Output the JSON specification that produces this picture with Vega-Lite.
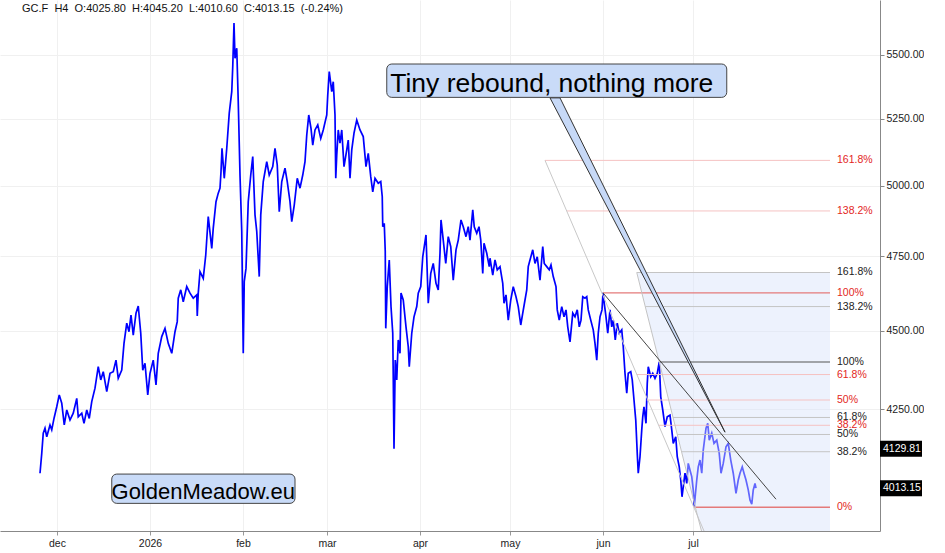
{
  "$schema": "https://vega.github.io/schema/vega-lite/v6.json",
  "width": 880,
  "height": 531,
  "padding": 0,
  "background": "white",
  "config": {"view": {"stroke": null}, "font": "Liberation Sans"},
  "datasets": {
    "price": [
      {"t":"2025-11-25T08:00","p":4057},{"t":"2025-11-25T22:00","p":4116},{"t":"2025-11-26T10:00","p":4177},{"t":"2025-11-27T00:00","p":4192},{"t":"2025-11-27T14:00","p":4166},{"t":"2025-11-28T16:00","p":4202},{"t":"2025-11-29T06:00","p":4187},{"t":"2025-11-30T00:00","p":4222},{"t":"2025-11-30T22:00","p":4258},{"t":"2025-12-01T18:00","p":4295},
      {"t":"2025-12-02T14:00","p":4269},{"t":"2025-12-03T10:00","p":4202},{"t":"2025-12-04T06:00","p":4248},{"t":"2025-12-05T08:00","p":4217},{"t":"2025-12-06T10:00","p":4238},{"t":"2025-12-07T14:00","p":4284},{"t":"2025-12-08T02:00","p":4227},{"t":"2025-12-09T06:00","p":4238},{"t":"2025-12-10T00:00","p":4207},{"t":"2025-12-10T22:00","p":4248},
      {"t":"2025-12-11T18:00","p":4222},{"t":"2025-12-12T14:00","p":4274},{"t":"2025-12-13T16:00","p":4316},{"t":"2025-12-14T18:00","p":4384},{"t":"2025-12-15T14:00","p":4342},{"t":"2025-12-16T10:00","p":4368},{"t":"2025-12-17T14:00","p":4305},{"t":"2025-12-18T16:00","p":4363},{"t":"2025-12-19T18:00","p":4368},{"t":"2025-12-20T16:00","p":4405},
      {"t":"2025-12-21T10:00","p":4347},{"t":"2025-12-22T14:00","p":4373},{"t":"2025-12-23T08:00","p":4459},{"t":"2025-12-24T06:00","p":4525},{"t":"2025-12-25T00:00","p":4497},{"t":"2025-12-25T16:00","p":4552},{"t":"2025-12-26T10:00","p":4486},{"t":"2025-12-27T08:00","p":4558},{"t":"2025-12-28T02:00","p":4582},{"t":"2025-12-28T22:00","p":4492},
      {"t":"2025-12-29T14:00","p":4373},{"t":"2025-12-30T08:00","p":4395},{"t":"2025-12-31T06:00","p":4295},{"t":"2026-01-01T00:00","p":4363},{"t":"2026-01-02T02:00","p":4405},{"t":"2026-01-03T00:00","p":4326},{"t":"2026-01-03T18:00","p":4427},{"t":"2026-01-04T22:00","p":4481},{"t":"2026-01-06T00:00","p":4508},{"t":"2026-01-07T02:00","p":4459},
      {"t":"2026-01-08T06:00","p":4427},{"t":"2026-01-09T08:00","p":4497},{"t":"2026-01-10T02:00","p":4530},{"t":"2026-01-10T10:00","p":4608},{"t":"2026-01-11T06:00","p":4636},{"t":"2026-01-12T02:00","p":4596},{"t":"2026-01-13T06:00","p":4647},{"t":"2026-01-14T08:00","p":4625},{"t":"2026-01-15T10:00","p":4608},{"t":"2026-01-16T14:00","p":4619},
      {"t":"2026-01-16T18:00","p":4549},{"t":"2026-01-17T02:00","p":4625},{"t":"2026-01-17T16:00","p":4698},{"t":"2026-01-18T18:00","p":4675},{"t":"2026-01-19T14:00","p":4755},{"t":"2026-01-20T10:00","p":4890},{"t":"2026-01-21T14:00","p":4778},{"t":"2026-01-22T02:00","p":4849},{"t":"2026-01-23T00:00","p":4943},{"t":"2026-01-23T18:00","p":4974},
      {"t":"2026-01-24T08:00","p":4992},{"t":"2026-01-24T16:00","p":5052},{"t":"2026-01-25T00:00","p":5139},{"t":"2026-01-25T18:00","p":5028},{"t":"2026-01-26T14:00","p":5139},{"t":"2026-01-27T10:00","p":5272},{"t":"2026-01-28T06:00","p":5355},{"t":"2026-01-28T14:00","p":5454},{"t":"2026-01-29T00:00","p":5629},{"t":"2026-01-29T08:00","p":5487},
      {"t":"2026-01-29T22:00","p":5527},{"t":"2026-01-30T10:00","p":5316},{"t":"2026-01-31T00:00","p":5040},{"t":"2026-01-31T14:00","p":4837},{"t":"2026-02-01T02:00","p":4427},{"t":"2026-02-01T10:00","p":4664},{"t":"2026-02-02T00:00","p":4709},{"t":"2026-02-02T18:00","p":4943},{"t":"2026-02-03T14:00","p":5040},{"t":"2026-02-04T06:00","p":5108},
      {"t":"2026-02-05T00:00","p":4896},{"t":"2026-02-05T14:00","p":4837},{"t":"2026-02-06T10:00","p":4681},{"t":"2026-02-06T22:00","p":4896},{"t":"2026-02-07T18:00","p":5016},{"t":"2026-02-08T22:00","p":5089},{"t":"2026-02-09T18:00","p":5040},{"t":"2026-02-10T22:00","p":5071},{"t":"2026-02-11T16:00","p":5139},{"t":"2026-02-12T10:00","p":5077},
      {"t":"2026-02-13T02:00","p":4907},{"t":"2026-02-13T22:00","p":5016},{"t":"2026-02-15T00:00","p":5065},{"t":"2026-02-15T18:00","p":5016},{"t":"2026-02-16T16:00","p":4943},{"t":"2026-02-17T06:00","p":4872},{"t":"2026-02-18T02:00","p":4931},{"t":"2026-02-19T02:00","p":5028},{"t":"2026-02-20T00:00","p":4992},{"t":"2026-02-20T22:00","p":5040},
      {"t":"2026-02-21T16:00","p":5089},{"t":"2026-02-22T06:00","p":5189},{"t":"2026-02-22T22:00","p":5265},{"t":"2026-02-23T16:00","p":5214},{"t":"2026-02-24T06:00","p":5151},{"t":"2026-02-25T00:00","p":5208},{"t":"2026-02-25T22:00","p":5227},{"t":"2026-02-26T22:00","p":5176},{"t":"2026-02-27T18:00","p":5208},{"t":"2026-02-28T22:00","p":5265},
      {"t":"2026-03-01T06:00","p":5342},{"t":"2026-03-01T18:00","p":5434},{"t":"2026-03-02T14:00","p":5355},{"t":"2026-03-03T02:00","p":5394},{"t":"2026-03-03T16:00","p":5265},{"t":"2026-03-03T22:00","p":5028},{"t":"2026-03-04T06:00","p":5114},{"t":"2026-03-04T18:00","p":5208},{"t":"2026-03-05T08:00","p":5158},{"t":"2026-03-05T22:00","p":5208},
      {"t":"2026-03-06T16:00","p":5071},{"t":"2026-03-07T14:00","p":5133},{"t":"2026-03-08T02:00","p":5170},{"t":"2026-03-08T16:00","p":5028},{"t":"2026-03-09T06:00","p":5133},{"t":"2026-03-10T00:00","p":5196},{"t":"2026-03-10T22:00","p":5246},{"t":"2026-03-12T00:00","p":5208},{"t":"2026-03-13T02:00","p":5183},{"t":"2026-03-14T00:00","p":5071},
      {"t":"2026-03-14T18:00","p":5120},{"t":"2026-03-15T14:00","p":5034},{"t":"2026-03-16T06:00","p":4979},{"t":"2026-03-17T00:00","p":5028},{"t":"2026-03-18T02:00","p":5010},{"t":"2026-03-18T22:00","p":5016},{"t":"2026-03-19T10:00","p":4961},{"t":"2026-03-19T14:00","p":4854},{"t":"2026-03-20T02:00","p":4866},{"t":"2026-03-20T10:00","p":4767},
      {"t":"2026-03-20T14:00","p":4508},{"t":"2026-03-21T02:00","p":4647},{"t":"2026-03-21T18:00","p":4738},{"t":"2026-03-22T08:00","p":4580},{"t":"2026-03-22T22:00","p":4492},{"t":"2026-03-23T02:00","p":4352},{"t":"2026-03-23T08:00","p":4130},{"t":"2026-03-23T18:00","p":4405},{"t":"2026-03-24T06:00","p":4342},{"t":"2026-03-24T18:00","p":4470},
      {"t":"2026-03-25T08:00","p":4427},{"t":"2026-03-25T16:00","p":4625},{"t":"2026-03-26T10:00","p":4602},{"t":"2026-03-27T08:00","p":4513},{"t":"2026-03-28T02:00","p":4448},{"t":"2026-03-28T10:00","p":4384},{"t":"2026-03-29T06:00","p":4492},{"t":"2026-03-30T00:00","p":4546},{"t":"2026-03-30T22:00","p":4580},{"t":"2026-03-31T10:00","p":4625},
      {"t":"2026-04-01T06:00","p":4647},{"t":"2026-04-01T22:00","p":4749},{"t":"2026-04-03T00:00","p":4825},{"t":"2026-04-03T18:00","p":4591},{"t":"2026-04-04T14:00","p":4692},{"t":"2026-04-05T10:00","p":4726},{"t":"2026-04-06T08:00","p":4658},{"t":"2026-04-07T02:00","p":4636},{"t":"2026-04-07T16:00","p":4761},{"t":"2026-04-08T00:00","p":4878},
      {"t":"2026-04-08T18:00","p":4807},{"t":"2026-04-09T14:00","p":4726},{"t":"2026-04-10T10:00","p":4819},{"t":"2026-04-11T06:00","p":4784},{"t":"2026-04-12T02:00","p":4669},{"t":"2026-04-13T00:00","p":4773},{"t":"2026-04-13T18:00","p":4807},{"t":"2026-04-14T16:00","p":4878},{"t":"2026-04-15T10:00","p":4854},{"t":"2026-04-16T08:00","p":4819},
      {"t":"2026-04-17T02:00","p":4854},{"t":"2026-04-17T16:00","p":4807},{"t":"2026-04-18T14:00","p":4914},{"t":"2026-04-19T02:00","p":4854},{"t":"2026-04-19T22:00","p":4831},{"t":"2026-04-20T16:00","p":4854},{"t":"2026-04-21T06:00","p":4807},{"t":"2026-04-21T22:00","p":4692},{"t":"2026-04-22T08:00","p":4796},{"t":"2026-04-23T06:00","p":4761},
      {"t":"2026-04-24T02:00","p":4715},{"t":"2026-04-24T08:00","p":4744},{"t":"2026-04-25T06:00","p":4686},{"t":"2026-04-26T00:00","p":4738},{"t":"2026-04-26T18:00","p":4704},{"t":"2026-04-27T16:00","p":4715},{"t":"2026-04-28T14:00","p":4658},{"t":"2026-04-29T00:00","p":4591},{"t":"2026-04-29T16:00","p":4619},{"t":"2026-04-30T10:00","p":4535},
      {"t":"2026-05-01T06:00","p":4602},{"t":"2026-05-02T02:00","p":4647},{"t":"2026-05-03T00:00","p":4613},{"t":"2026-05-03T18:00","p":4580},{"t":"2026-05-04T14:00","p":4519},{"t":"2026-05-05T06:00","p":4558},{"t":"2026-05-06T00:00","p":4602},{"t":"2026-05-06T14:00","p":4636},{"t":"2026-05-07T02:00","p":4715},{"t":"2026-05-07T16:00","p":4738},
      {"t":"2026-05-08T14:00","p":4773},{"t":"2026-05-09T08:00","p":4726},{"t":"2026-05-10T02:00","p":4749},{"t":"2026-05-11T00:00","p":4669},{"t":"2026-05-11T22:00","p":4784},{"t":"2026-05-12T10:00","p":4726},{"t":"2026-05-13T06:00","p":4715},{"t":"2026-05-14T02:00","p":4704},{"t":"2026-05-14T16:00","p":4721},{"t":"2026-05-15T10:00","p":4681},
      {"t":"2026-05-16T08:00","p":4647},{"t":"2026-05-16T18:00","p":4569},{"t":"2026-05-17T10:00","p":4535},{"t":"2026-05-18T06:00","p":4580},{"t":"2026-05-19T00:00","p":4546},{"t":"2026-05-19T16:00","p":4569},{"t":"2026-05-20T06:00","p":4513},{"t":"2026-05-21T00:00","p":4464},{"t":"2026-05-21T22:00","p":4558},{"t":"2026-05-22T16:00","p":4546},
      {"t":"2026-05-23T10:00","p":4569},{"t":"2026-05-24T02:00","p":4513},{"t":"2026-05-24T16:00","p":4535},{"t":"2026-05-25T06:00","p":4613},{"t":"2026-05-26T00:00","p":4608},{"t":"2026-05-26T14:00","p":4613},{"t":"2026-05-27T02:00","p":4569},{"t":"2026-05-27T22:00","p":4535},{"t":"2026-05-28T18:00","p":4503},{"t":"2026-05-29T08:00","p":4459},
      {"t":"2026-05-29T22:00","p":4405},{"t":"2026-05-30T10:00","p":4492},{"t":"2026-05-31T00:00","p":4546},{"t":"2026-05-31T16:00","p":4569},{"t":"2026-06-01T00:00","p":4626},{"t":"2026-06-01T10:00","p":4591},{"t":"2026-06-02T00:00","p":4546},{"t":"2026-06-02T14:00","p":4492},{"t":"2026-06-03T08:00","p":4569},{"t":"2026-06-03T22:00","p":4513},
      {"t":"2026-06-04T10:00","p":4535},{"t":"2026-06-05T02:00","p":4470},{"t":"2026-06-05T18:00","p":4525},{"t":"2026-06-06T10:00","p":4492},{"t":"2026-06-07T06:00","p":4503},{"t":"2026-06-07T18:00","p":4448},{"t":"2026-06-08T08:00","p":4363},{"t":"2026-06-08T22:00","p":4300},{"t":"2026-06-09T10:00","p":4363},{"t":"2026-06-10T06:00","p":4368},
      {"t":"2026-06-10T18:00","p":4342},{"t":"2026-06-11T08:00","p":4279},{"t":"2026-06-11T22:00","p":4217},{"t":"2026-06-12T10:00","p":4116},{"t":"2026-06-12T18:00","p":4057},{"t":"2026-06-13T08:00","p":4106},{"t":"2026-06-13T22:00","p":4187},{"t":"2026-06-14T06:00","p":4227},{"t":"2026-06-14T16:00","p":4258},{"t":"2026-06-15T08:00","p":4207},
      {"t":"2026-06-15T18:00","p":4331},{"t":"2026-06-16T02:00","p":4384},{"t":"2026-06-16T22:00","p":4352},{"t":"2026-06-17T14:00","p":4363},{"t":"2026-06-18T08:00","p":4347},{"t":"2026-06-19T02:00","p":4363},{"t":"2026-06-19T18:00","p":4399},{"t":"2026-06-20T06:00","p":4289},{"t":"2026-06-20T22:00","p":4248},{"t":"2026-06-21T16:00","p":4197},
      {"t":"2026-06-22T10:00","p":4227},{"t":"2026-06-23T08:00","p":4232},{"t":"2026-06-23T22:00","p":4187},{"t":"2026-06-24T10:00","p":4146},{"t":"2026-06-25T06:00","p":4166},{"t":"2026-06-25T18:00","p":4106},{"t":"2026-06-26T10:00","p":4076},{"t":"2026-06-26T22:00","p":4037},{"t":"2026-06-27T08:00","p":3988},{"t":"2026-06-27T18:00","p":4017},
      {"t":"2026-06-28T08:00","p":4057},{"t":"2026-06-28T22:00","p":4027},{"t":"2026-06-29T10:00","p":4086},{"t":"2026-06-30T00:00","p":4066},{"t":"2026-06-30T14:00","p":4047},{"t":"2026-07-01T02:00","p":4008},{"t":"2026-07-01T10:00","p":3960},{"t":"2026-07-02T06:00","p":4037},{"t":"2026-07-02T18:00","p":4076},{"t":"2026-07-03T08:00","p":4096},
      {"t":"2026-07-03T22:00","p":4057},{"t":"2026-07-04T10:00","p":4126},{"t":"2026-07-05T08:00","p":4192},{"t":"2026-07-05T22:00","p":4207},{"t":"2026-07-06T10:00","p":4156},{"t":"2026-07-07T06:00","p":4177},{"t":"2026-07-08T00:00","p":4146},{"t":"2026-07-08T22:00","p":4156},{"t":"2026-07-09T18:00","p":4116},{"t":"2026-07-10T08:00","p":4057},
      {"t":"2026-07-11T02:00","p":4086},{"t":"2026-07-12T00:00","p":4136},{"t":"2026-07-12T18:00","p":4146},{"t":"2026-07-13T14:00","p":4096},{"t":"2026-07-14T10:00","p":4057},{"t":"2026-07-15T08:00","p":3998},{"t":"2026-07-16T02:00","p":4037},{"t":"2026-07-16T16:00","p":4057},{"t":"2026-07-17T10:00","p":4076},{"t":"2026-07-18T00:00","p":4057},
      {"t":"2026-07-18T16:00","p":4037},{"t":"2026-07-19T10:00","p":4008},{"t":"2026-07-20T00:00","p":3979},{"t":"2026-07-20T14:00","p":3967},{"t":"2026-07-21T02:00","p":4008},{"t":"2026-07-21T16:00","p":4027},{"t":"2026-07-22T00:00","p":4013.15}
    ],
    "fibA": [
      {"level":"161.8%","p":5094,"start":"2026-05-12T16:00","end":"2026-08-15T16:00"},
      {"level":"138.2%","p":4910,"start":"2026-05-19T22:00","end":"2026-08-15T16:00"},
      {"level":"100%","p":4626,"start":"2026-06-01T00:00","end":"2026-08-15T16:00"},
      {"level":"61.8%","p":4359,"start":"2026-06-12T06:00","end":"2026-08-15T16:00"},
      {"level":"50%","p":4279,"start":"2026-06-15T14:00","end":"2026-08-15T16:00"},
      {"level":"38.2%","p":4201,"start":"2026-06-19T15:00","end":"2026-08-15T16:00"},
      {"level":"0%","p":3958,"start":"2026-07-01T10:00","end":"2026-08-15T16:00"}
    ],
    "fibB": [
      {"level":"161.8%","p":4695,"start":"2026-06-12T06:00","end":"2026-08-15T16:00"},
      {"level":"138.2%","p":4580,"start":"2026-06-15T02:00","end":"2026-08-15T16:00"},
      {"level":"100%","p":4399,"start":"2026-06-19T18:00","end":"2026-08-15T16:00"},
      {"level":"61.8%","p":4225,"start":"2026-06-24T08:00","end":"2026-08-15T16:00"},
      {"level":"50%","p":4173,"start":"2026-06-25T19:00","end":"2026-08-15T16:00"},
      {"level":"38.2%","p":4121,"start":"2026-06-27T06:00","end":"2026-08-15T16:00"}
    ],
    "edgeB": [
      {"t":"2026-06-12T06:00","p":4695,"end":"2026-08-15T16:00"},
      {"t":"2026-06-15T02:00","p":4580,"end":"2026-08-15T16:00"},
      {"t":"2026-06-19T18:00","p":4399,"end":"2026-08-15T16:00"},
      {"t":"2026-07-02T10:00","p":3936,"end":"2026-08-15T16:00"},
      {"t":"2026-07-03T20:00","p":3890,"end":"2026-08-15T16:00"}
    ]
  },
  "layer": [
    {
      "data": {"name": "price"},
      "mark": {"type": "line", "color": "#0000ff", "strokeWidth": 1.7},
      "encoding": {
        "x": {"field": "t", "type": "temporal", "title": null,
          "scale": {"domain": [{"year":2025,"month":11,"date":12}, {"year":2026,"month":9,"date":1,"hours":8}]},
          "axis": {
            "values": [{"year":2025,"month":12,"date":1},{"year":2026,"month":1,"date":1},{"year":2026,"month":2,"date":1},{"year":2026,"month":3,"date":1},{"year":2026,"month":4,"date":1},{"year":2026,"month":5,"date":1},{"year":2026,"month":6,"date":1},{"year":2026,"month":7,"date":1}],
            "labelExpr": "month(datum.value) == 0 ? timeFormat(datum.value, '%Y') : lower(timeFormat(datum.value, '%b'))",
            "labelFont": "Liberation Sans", "labelFontSize": 10.5, "labelColor": "#222",
            "tickColor": "#999", "tickSize": 4, "domainColor": "#888", "gridColor": "#f0f0f0", "labelPadding": 3
          }},
        "y": {"field": "p", "type": "quantitative", "title": null,
          "scale": {"type": "log", "domain": [3890, 5724.5], "nice": false, "zero": false},
          "axis": {"orient": "right", "values": [4250,4500,4750,5000,5250,5500], "format": ".2f",
            "labelFont": "Liberation Sans", "labelFontSize": 10.5, "labelColor": "#222",
            "tickColor": "#888", "tickSize": 4, "domainColor": "#888", "gridColor": "#f0f0f0", "labelPadding": 2}}
      }
    },
    {
      "data": {"name": "edgeB"},
      "mark": {"type": "area", "orient": "horizontal", "color": "#d6e2fa", "opacity": 0.45},
      "encoding": {
        "y": {"field": "p", "type": "quantitative", "title": null, "scale": {"type": "log", "domain": [3890, 5724.5], "nice": false, "zero": false}},
        "x": {"field": "t", "type": "temporal", "title": null},
        "x2": {"field": "end"}
      }
    },
    {
      "data": {"name": "fibA"},
      "transform": [{"filter": {"field": "level", "oneOf": ["161.8%","138.2%","61.8%","50%","38.2%"]}}],
      "mark": {"type": "rule", "color": "#f5c2c2", "strokeWidth": 1},
      "encoding": {
        "x": {"field": "start", "type": "temporal", "title": null}, "x2": {"field": "end"},
        "y": {"field": "p", "type": "quantitative", "title": null, "scale": {"type": "log", "domain": [3890, 5724.5], "nice": false, "zero": false}}
      }
    },
    {
      "data": {"name": "fibA"},
      "transform": [{"filter": {"field": "level", "oneOf": ["100%","0%"]}}],
      "mark": {"type": "rule", "color": "#e47a7a", "strokeWidth": 1.4},
      "encoding": {
        "x": {"field": "start", "type": "temporal", "title": null}, "x2": {"field": "end"},
        "y": {"field": "p", "type": "quantitative", "title": null, "scale": {"type": "log", "domain": [3890, 5724.5], "nice": false, "zero": false}}
      }
    },
    {
      "data": {"name": "fibB"},
      "transform": [{"filter": {"field": "level", "oneOf": ["161.8%","138.2%","61.8%","50%","38.2%"]}}],
      "mark": {"type": "rule", "color": "#c4c4c4", "strokeWidth": 1},
      "encoding": {
        "x": {"field": "start", "type": "temporal", "title": null}, "x2": {"field": "end"},
        "y": {"field": "p", "type": "quantitative", "title": null, "scale": {"type": "log", "domain": [3890, 5724.5], "nice": false, "zero": false}}
      }
    },
    {
      "data": {"name": "fibB"},
      "transform": [{"filter": {"field": "level", "oneOf": ["100%"]}}],
      "mark": {"type": "rule", "color": "#555555", "strokeWidth": 1.2},
      "encoding": {
        "x": {"field": "start", "type": "temporal", "title": null}, "x2": {"field": "end"},
        "y": {"field": "p", "type": "quantitative", "title": null, "scale": {"type": "log", "domain": [3890, 5724.5], "nice": false, "zero": false}}
      }
    },
    {
      "data": {"values": [{"t":"2026-05-12T16:00","p":5094},{"t":"2026-07-04T16:00","p":3890}]},
      "mark": {"type": "line", "color": "#c8c8c8", "strokeWidth": 1},
      "encoding": {
        "x": {"field": "t", "type": "temporal", "title": null},
        "y": {"field": "p", "type": "quantitative", "title": null, "scale": {"type": "log", "domain": [3890, 5724.5], "nice": false, "zero": false}}
      }
    },
    {
      "data": {"name": "edgeB"},
      "mark": {"type": "line", "color": "#c4c4c4", "strokeWidth": 1},
      "encoding": {
        "x": {"field": "t", "type": "temporal", "title": null},
        "y": {"field": "p", "type": "quantitative", "title": null, "scale": {"type": "log", "domain": [3890, 5724.5], "nice": false, "zero": false}}
      }
    },
    {
      "mark": {"type": "rule", "color": "#666666", "strokeWidth": 1.5},
      "encoding": {
        "y": {"datum": 4129.81, "type": "quantitative", "title": null, "scale": {"type": "log", "domain": [3890, 5724.5], "nice": false, "zero": false}}
      }
    },
    {
      "data": {"values": [{"t":"2026-06-01T00:00","p":4626},{"t":"2026-07-28T16:00","p":3981}]},
      "mark": {"type": "line", "color": "#444444", "strokeWidth": 1},
      "encoding": {
        "x": {"field": "t", "type": "temporal", "title": null},
        "y": {"field": "p", "type": "quantitative", "title": null, "scale": {"type": "log", "domain": [3890, 5724.5], "nice": false, "zero": false}}
      }
    },
    {
      "data": {"values": [{"p":5331,"l":"2026-05-14T08:00","r":"2026-05-17T16:00"},{"p":4180,"l":"2026-07-11T16:00","r":"2026-07-11T16:00"}]},
      "mark": {"type": "area", "orient": "horizontal", "fill": "#c7d9f7", "stroke": "#333333", "strokeWidth": 1},
      "encoding": {
        "y": {"field": "p", "type": "quantitative", "title": null, "scale": {"type": "log", "domain": [3890, 5724.5], "nice": false, "zero": false}},
        "x": {"field": "l", "type": "temporal", "title": null},
        "x2": {"field": "r"}
      }
    },
    {
      "data": {"values": [
        {"box":"callout","a":"2026-03-20T22:00","b":"2026-07-12T06:00","top":5464,"bottom":5333},
        {"box":"site","a":"2025-12-19T06:00","b":"2026-02-18T08:00","top":4054.5,"bottom":3969}
      ]},
      "mark": {"type": "rect", "fill": "#c9dbf8", "stroke": "#444444", "strokeWidth": 1, "cornerRadius": 5},
      "encoding": {
        "x": {"field": "a", "type": "temporal", "title": null}, "x2": {"field": "b"},
        "y": {"field": "top", "type": "quantitative", "title": null, "scale": {"type": "log", "domain": [3890, 5724.5], "nice": false, "zero": false}},
        "y2": {"field": "bottom"}
      }
    },
    {
      "data": {"values": [{"label":"Tiny rebound, nothing more","t":"2026-05-14T22:00","p":5355}]},
      "mark": {"type": "text", "font": "Liberation Sans", "fontSize": 26.5, "align": "center", "baseline": "alphabetic", "color": "#000"},
      "encoding": {
        "x": {"field": "t", "type": "temporal", "title": null},
        "y": {"field": "p", "type": "quantitative", "title": null, "scale": {"type": "log", "domain": [3890, 5724.5], "nice": false, "zero": false}},
        "text": {"field": "label"}
      }
    },
    {
      "data": {"values": [{"label":"GoldenMeadow.eu","t":"2026-01-18T18:00","p":3981.5}]},
      "mark": {"type": "text", "font": "Liberation Sans", "fontSize": 22, "align": "center", "baseline": "alphabetic", "color": "#000"},
      "encoding": {
        "x": {"field": "t", "type": "temporal", "title": null},
        "y": {"field": "p", "type": "quantitative", "title": null, "scale": {"type": "log", "domain": [3890, 5724.5], "nice": false, "zero": false}},
        "text": {"field": "label"}
      }
    },
    {
      "data": {"values": [{"label":"GC.F\u00a0\u00a0H4\u00a0\u00a0O:4025.80\u00a0\u00a0H:4045.20\u00a0\u00a0L:4010.60\u00a0\u00a0C:4013.15\u00a0\u00a0(-0.24%)","t":"2025-11-19T08:00","p":5687}]},
      "mark": {"type": "text", "font": "Liberation Sans", "fontSize": 11, "align": "left", "baseline": "middle", "color": "#111"},
      "encoding": {
        "x": {"field": "t", "type": "temporal", "title": null},
        "y": {"field": "p", "type": "quantitative", "title": null, "scale": {"type": "log", "domain": [3890, 5724.5], "nice": false, "zero": false}},
        "text": {"field": "label"}
      }
    },
    {
      "data": {"name": "fibA"},
      "mark": {"type": "text", "font": "Liberation Sans", "fontSize": 10.5, "align": "left", "baseline": "middle", "dx": 7, "color": "#e3261c"},
      "encoding": {
        "x": {"field": "end", "type": "temporal", "title": null},
        "y": {"field": "p", "type": "quantitative", "title": null, "scale": {"type": "log", "domain": [3890, 5724.5], "nice": false, "zero": false}},
        "text": {"field": "level"}
      }
    },
    {
      "data": {"name": "fibB"},
      "mark": {"type": "text", "font": "Liberation Sans", "fontSize": 10.5, "align": "left", "baseline": "middle", "dx": 7, "color": "#222222"},
      "encoding": {
        "x": {"field": "end", "type": "temporal", "title": null},
        "y": {"field": "p", "type": "quantitative", "title": null, "scale": {"type": "log", "domain": [3890, 5724.5], "nice": false, "zero": false}},
        "text": {"field": "level"}
      }
    },
    {
      "data": {"values": [{"label":"4129.81","p":4129.81},{"label":"4013.15","p":4013.15}]},
      "layer": [
        {
          "mark": {"type": "rect", "color": "#000000", "x2Offset": 42, "yOffset": -8, "y2Offset": 8},
          "encoding": {
            "x": {"datum": {"year":2026,"month":9,"date":1,"hours":8}, "type": "temporal", "title": null},
            "x2": {"datum": {"year":2026,"month":9,"date":1,"hours":8}},
            "y": {"field": "p", "type": "quantitative", "title": null, "scale": {"type": "log", "domain": [3890, 5724.5], "nice": false, "zero": false}},
            "y2": {"field": "p"}
          }
        },
        {
          "mark": {"type": "text", "font": "Liberation Sans", "fontSize": 10.5, "align": "left", "baseline": "middle", "dx": 3, "color": "#ffffff"},
          "encoding": {
            "x": {"datum": {"year":2026,"month":9,"date":1,"hours":8}, "type": "temporal", "title": null},
            "y": {"field": "p", "type": "quantitative", "title": null, "scale": {"type": "log", "domain": [3890, 5724.5], "nice": false, "zero": false}},
            "text": {"field": "label"}
          }
        }
      ]
    }
  ]
}
